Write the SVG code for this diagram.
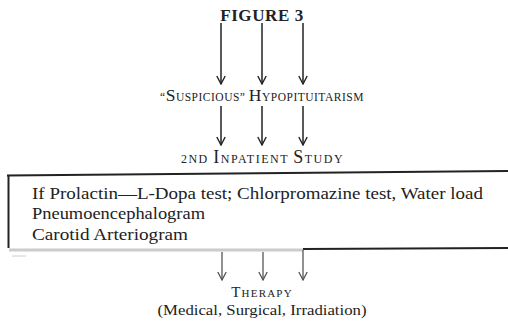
<svg xmlns="http://www.w3.org/2000/svg" width="508" height="325" viewBox="0 0 508 325">
<defs>
<marker id="ah" viewBox="0 0 10 10" refX="9" refY="5" markerWidth="10" markerHeight="10" markerUnits="userSpaceOnUse" orient="auto">
<path d="M1,0.8 L9,5 L1,9.2" fill="none" stroke="#222" stroke-width="1.4"/>
</marker>
<marker id="ah2" viewBox="0 0 10 10" refX="9" refY="5" markerWidth="10" markerHeight="10" markerUnits="userSpaceOnUse" orient="auto">
<path d="M1,0.8 L9,5 L1,9.2" fill="none" stroke="#555" stroke-width="1.3"/>
</marker>
</defs>
<style>
text{font-family:"Liberation Serif","Times New Roman",serif;fill:#222}
.ar{stroke:#222;stroke-width:1.5;fill:none}
.ar2{stroke:#555;stroke-width:1.3;fill:none}
.box{font-size:16.5px}
</style>
<rect width="508" height="325" fill="#fff"/>
<g id="title">
<text x="262" y="20.5" text-anchor="middle" font-weight="bold" font-size="17" letter-spacing="0.6">FIGURE 3</text>
</g>
<g id="suspicious">
<text x="262" y="100.5" text-anchor="middle" font-size="11.5" letter-spacing="0.5">“<tspan font-size="17.5">S</tspan>USPICIOUS” <tspan font-size="17.5">H</tspan>YPOPITUITARISM</text>
</g>
<g id="inpatient">
<text x="262.5" y="163" text-anchor="middle" font-size="12" letter-spacing="1.5">2ND <tspan font-size="18">I</tspan>NPATIENT <tspan font-size="18">S</tspan>TUDY</text>
</g>
<g id="tests">
<line x1="7" y1="175.5" x2="508" y2="171" stroke="#222" stroke-width="2"/>
<line x1="8.5" y1="175" x2="8.5" y2="248" stroke="#222" stroke-width="2"/>
<line x1="9" y1="250" x2="303" y2="250" stroke="#ccc" stroke-width="3"/>
<line x1="12" y1="256" x2="26" y2="256" stroke="#ccc" stroke-width="1"/>
<line x1="303" y1="249" x2="508" y2="248" stroke="#222" stroke-width="2"/>
<text x="32" y="198.5" class="box" textLength="451" lengthAdjust="spacingAndGlyphs">If Prolactin—L-Dopa test; Chlorpromazine test, Water load</text>
<text x="32" y="219" class="box" textLength="173" lengthAdjust="spacingAndGlyphs">Pneumoencephalogram</text>
<text x="32" y="240" class="box" textLength="156" lengthAdjust="spacingAndGlyphs">Carotid Arteriogram</text>
</g>
<g id="therapy">
<text x="262" y="297" text-anchor="middle" font-size="11" letter-spacing="1.2"><tspan font-size="15">T</tspan>HERAPY</text>
<text x="262" y="315" text-anchor="middle" font-size="15" textLength="209" lengthAdjust="spacingAndGlyphs">(Medical, Surgical, Irradiation)</text>
</g>
<g id="connectors">
<line class="ar" x1="221" y1="23" x2="221" y2="84" marker-end="url(#ah)"/>
<line class="ar" x1="262" y1="23" x2="262" y2="84" marker-end="url(#ah)"/>
<line class="ar" x1="303" y1="23" x2="303" y2="84" marker-end="url(#ah)"/>
<line class="ar" x1="221" y1="106" x2="221" y2="145" marker-end="url(#ah)"/>
<line class="ar" x1="262" y1="106" x2="262" y2="145" marker-end="url(#ah)"/>
<line class="ar" x1="303" y1="106" x2="303" y2="145" marker-end="url(#ah)"/>
<line class="ar2" x1="222" y1="252" x2="222" y2="280" marker-end="url(#ah2)"/>
<line class="ar2" x1="263" y1="252" x2="263" y2="280" marker-end="url(#ah2)"/>
<line class="ar2" x1="303" y1="250" x2="303" y2="280" marker-end="url(#ah2)"/>
</g>
</svg>
